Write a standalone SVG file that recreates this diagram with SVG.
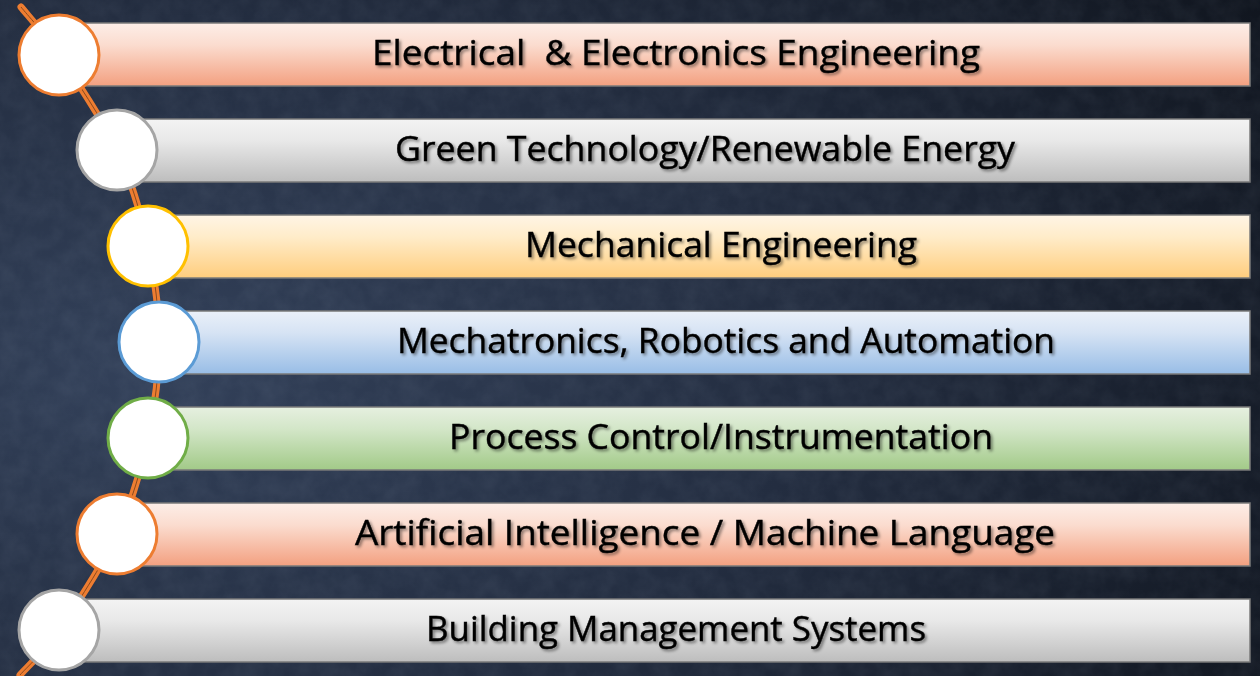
<svg xmlns="http://www.w3.org/2000/svg" width="1260" height="676" viewBox="0 0 1260 676">
<defs>
<radialGradient id="bg" cx="0.12" cy="0.55" r="1.05">
<stop offset="0" stop-color="#33415a"/>
<stop offset="0.5" stop-color="#232d40"/>
<stop offset="1" stop-color="#10151e"/>
</radialGradient>
<filter id="tex" x="0" y="0" width="100%" height="100%">
<feTurbulence type="fractalNoise" baseFrequency="0.05" numOctaves="4" seed="3" result="n"/>
<feColorMatrix in="n" type="matrix" values="0 0 0 0 0.5  0 0 0 0 0.58  0 0 0 0 0.7  0 0 0 0.3 -0.08"/>
</filter>
<linearGradient id="gOr" x1="0" y1="0" x2="0" y2="1"><stop offset="0" stop-color="#fdeee8"/><stop offset="0.35" stop-color="#fbdccf"/><stop offset="1" stop-color="#f3a080"/></linearGradient>
<linearGradient id="gGr" x1="0" y1="0" x2="0" y2="1"><stop offset="0" stop-color="#f3f3f3"/><stop offset="0.35" stop-color="#e8e8e8"/><stop offset="1" stop-color="#bdbdbd"/></linearGradient>
<linearGradient id="gGo" x1="0" y1="0" x2="0" y2="1"><stop offset="0" stop-color="#fff5e6"/><stop offset="0.35" stop-color="#ffecc9"/><stop offset="1" stop-color="#ffcd7d"/></linearGradient>
<linearGradient id="gBl" x1="0" y1="0" x2="0" y2="1"><stop offset="0" stop-color="#eaf0f9"/><stop offset="0.35" stop-color="#d6e3f4"/><stop offset="1" stop-color="#98bde6"/></linearGradient>
<linearGradient id="gGn" x1="0" y1="0" x2="0" y2="1"><stop offset="0" stop-color="#e6f0e0"/><stop offset="0.35" stop-color="#d3e6c8"/><stop offset="1" stop-color="#a2ca88"/></linearGradient>
<filter id="ts" x="-5%" y="-30%" width="110%" height="160%">
<feDropShadow dx="2" dy="2" stdDeviation="1.4" flood-color="#000" flood-opacity="0.45"/>
</filter>
<style>
.bar{stroke:#7a7a7a;stroke-width:1.5}
.cir{fill:#fff;stroke-width:3}
.lbl{font-family:"Open Sans","DejaVu Sans",sans-serif;font-size:34px;fill:#000;text-anchor:middle;filter:url(#ts);stroke:#000;stroke-width:0.4}
</style>
</defs>
<rect width="1260" height="676" fill="url(#bg)"/>
<rect width="1260" height="676" filter="url(#tex)" opacity="0.35"/>
<g id="connectors">
<path d="M21,7 C27.3,15 43,31.2 59,55 C75,78.8 102.2,118.2 117,150 C131.8,181.8 141,214 148,246 C155,278 159,310 159,342 C159,374 155,406 148,438 C141,470 131.8,502 117,534 C102.2,566 75.2,606.5 59,630 C42.8,653.5 26.5,667.5 20,675" fill="none" stroke="#ED7D31" stroke-width="7" stroke-linecap="round"/>
<path d="M21,7 C27.3,15 43,31.2 59,55 C75,78.8 102.2,118.2 117,150 C131.8,181.8 141,214 148,246 C155,278 159,310 159,342 C159,374 155,406 148,438 C141,470 131.8,502 117,534 C102.2,566 75.2,606.5 59,630 C42.8,653.5 26.5,667.5 20,675" fill="none" stroke="#8a4a1e" stroke-width="1"/>
</g>
<g id="node1"><rect class="bar" x="59" y="23" width="1191" height="63" fill="url(#gOr)"/><circle class="cir" cx="59" cy="55" r="40" stroke="#ED7D31"/><text class="lbl" x="676" y="65" textLength="608" lengthAdjust="spacingAndGlyphs" xml:space="preserve">Electrical  &amp; Electronics Engineering</text></g>
<g id="node2"><rect class="bar" x="117" y="119" width="1133" height="63" fill="url(#gGr)"/><circle class="cir" cx="117" cy="150" r="40" stroke="#A5A5A5"/><text class="lbl" x="705" y="161" textLength="620" lengthAdjust="spacingAndGlyphs">Green Technology/Renewable Energy</text></g>
<g id="node3"><rect class="bar" x="148" y="215" width="1102" height="63" fill="url(#gGo)"/><circle class="cir" cx="148" cy="246" r="40" stroke="#FFC000"/><text class="lbl" x="721" y="257" textLength="392" lengthAdjust="spacingAndGlyphs">Mechanical Engineering</text></g>
<g id="node4"><rect class="bar" x="159" y="311" width="1091" height="63" fill="url(#gBl)"/><circle class="cir" cx="159" cy="342" r="40" stroke="#5B9BD5"/><text class="lbl" x="726" y="353" textLength="658" lengthAdjust="spacingAndGlyphs">Mechatronics, Robotics and Automation</text></g>
<g id="node5"><rect class="bar" x="148" y="407" width="1102" height="63" fill="url(#gGn)"/><circle class="cir" cx="148" cy="438" r="40" stroke="#70AD47"/><text class="lbl" x="721" y="449" textLength="544" lengthAdjust="spacingAndGlyphs">Process Control/Instrumentation</text></g>
<g id="node6"><rect class="bar" x="117" y="503" width="1133" height="63" fill="url(#gOr)"/><circle class="cir" cx="117" cy="534" r="40" stroke="#ED7D31"/><text class="lbl" x="705" y="545" textLength="700" lengthAdjust="spacingAndGlyphs">Artificial Intelligence / Machine Language</text></g>
<g id="node7"><rect class="bar" x="59" y="599" width="1191" height="63" fill="url(#gGr)"/><circle class="cir" cx="59" cy="630" r="40" stroke="#A5A5A5"/><text class="lbl" x="676" y="641" textLength="500" lengthAdjust="spacingAndGlyphs">Building Management Systems</text></g>
</svg>
